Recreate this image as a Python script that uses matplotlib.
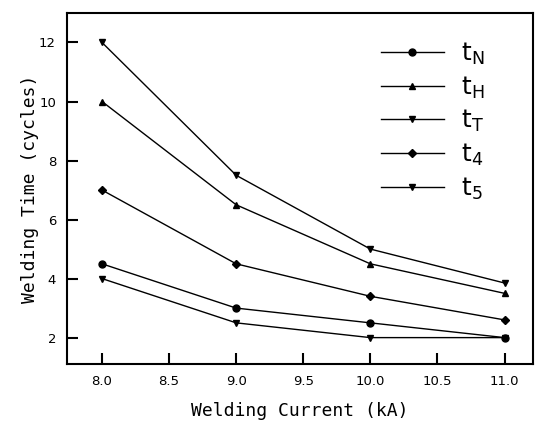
import matplotlib
matplotlib.use("Agg")
import matplotlib.pyplot as plt

# welding current (kA)
current = [8.0, 9.0, 10.0, 11.0]

# welding time (cycles) per series
t_n = [4.5, 3.0, 2.5, 2.0]
t_h = [10.0, 6.5, 4.5, 3.5]
t_t = [12.0, 7.5, 5.0, 3.85]
t_4 = [7.0, 4.5, 3.4, 2.6]
t_5 = [4.0, 2.5, 2.0, 2.0]

series = [
    (t_n, 'o', r'$\mathsf{t}_\mathsf{N}$'),
    (t_h, '^', r'$\mathsf{t}_\mathsf{H}$'),
    (t_t, 'v', r'$\mathsf{t}_\mathsf{T}$'),
    (t_4, 'D', r'$\mathsf{t}_\mathsf{4}$'),
    (t_5, 'v', r'$\mathsf{t}_\mathsf{5}$'),
]

xticks = [8.0, 8.5, 9.0, 9.5, 10.0, 10.5, 11.0]
yticks = [2, 4, 6, 8, 10, 12]

fig = plt.figure(figsize=(5.37, 4.32), dpi=100)
ax = fig.add_axes([0.125, 0.157, 0.867, 0.813])

for vals, mk, lab in series:
    ms = 4.0 if mk == 'D' else 5.0
    ax.plot(current, vals, color='black', lw=1.0, marker=mk, ms=ms, label=lab)

ax.set_xlim(7.74, 11.21)
ax.set_ylim(1.1, 13.0)
ax.set_xticks(xticks)
ax.set_xticklabels([f"{v:.1f}" for v in xticks])
ax.set_yticks(yticks)
ax.tick_params(direction='in', length=8, width=1.5, labelsize=9.5,
               top=False, right=False, pad=8)
for sp in ax.spines.values():
    sp.set_linewidth(1.5)

lab_font = {'family': 'DejaVu Sans Mono', 'size': 13}
ax.set_xlabel('Welding Current (kA)', fontdict=lab_font, labelpad=10)
ax.set_ylabel('Welding Time (cycles)', fontdict=lab_font, labelpad=0)

ax.legend(loc='upper right', frameon=False, fontsize=18, handlelength=2.5,
          labelspacing=0.3, handletextpad=0.7, bbox_to_anchor=(0.945, 0.985))

fig.savefig('out.png', dpi=100)
